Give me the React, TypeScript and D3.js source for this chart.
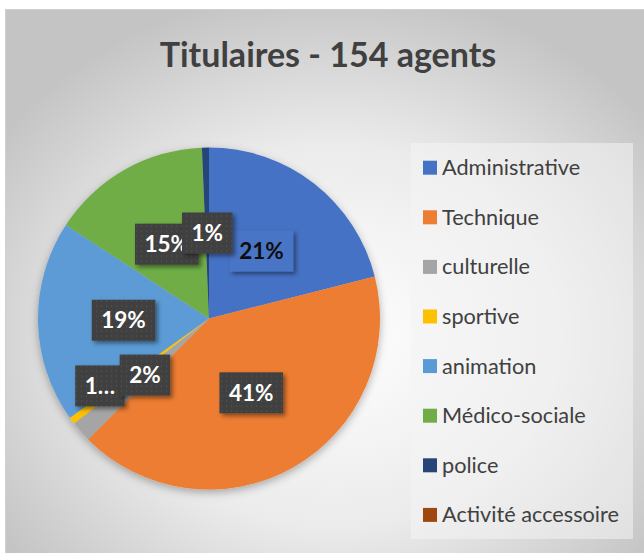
import React, { useMemo } from "react";
import * as d3 from "d3";

const categories = [
  "Administrative",
  "Technique",
  "culturelle",
  "sportive",
  "animation",
  "Médico-sociale",
  "police",
  "Activité accessoire",
];
const values = [32, 63, 3, 1, 29, 23, 1, 0];
const colors = ["#4472C4", "#ED7D31", "#A5A5A5", "#FFC000", "#5B9BD5", "#70AD47", "#264478", "#9E480E"];
const title = "Titulaires - 154 agents";
const truncated = ["sportive"];

const W = 644;
const H = 553;
const CX = 209;
const CY = 318.5;
const R = 171;
const LABEL_FONT = "bold 22.5px Lato";

function measure(text: string, font: string) {
  const c = document.createElement("canvas").getContext("2d");
  if (!c) return text.length * 12;
  c.font = font;
  return c.measureText(text).width;
}

export default function App() {
  const total = d3.sum(values);
  const arcs = useMemo(() => d3.pie<number>().sort(null).value((d) => d)(values), []);
  const arcGen = d3.arc<d3.PieArcDatum<number>>().innerRadius(0).outerRadius(R);
  // label placement: Excel "best fit" pushes the tiny sportive label outward and aside
  const labelFactor = (i: number) => (categories[i] === "sportive" ? 0.75 : 0.5);
  const labelNudge = (i: number) => (categories[i] === "sportive" ? (5 * Math.PI) / 180 : 0);
  const drawOrder = [0, 1, 3, 2, 4, 5, 6, 7];

  const legendY0 = 167.7;
  const legendStep = 49.6;

  return (
    <svg
      width={W}
      height={H}
      style={{ position: "absolute", left: 0, top: 0 }}
      xmlns="http://www.w3.org/2000/svg"
    >
      <defs>
        <radialGradient id="bg" cx="50%" cy="58%" r="62%">
          <stop offset="0%" stopColor="#ffffff" />
          <stop offset="55%" stopColor="#ebebeb" />
          <stop offset="100%" stopColor="#c4c4c4" />
        </radialGradient>
        <filter id="pieShadow" x="-20%" y="-20%" width="140%" height="140%">
          <feDropShadow dx="0" dy="3" stdDeviation="4" floodColor="#000" floodOpacity="0.3" />
        </filter>
        <filter id="boxShadow" x="-30%" y="-30%" width="160%" height="160%">
          <feDropShadow dx="2.5" dy="2.5" stdDeviation="2" floodColor="#000" floodOpacity="0.45" />
        </filter>
        <pattern id="dots" width="5" height="5" patternUnits="userSpaceOnUse">
          <rect width="5" height="5" fill="#404040" />
          <rect x="2" y="2" width="1.2" height="1.2" fill="#585858" />
        </pattern>
      </defs>
      <rect x={0} y={0} width={W} height={H} fill="#ffffff" />
      <rect x={5.5} y={9.5} width={W + 10} height={H + 10} fill="url(#bg)" stroke="#d0d0d0" />

      <text
        x={328}
        y={67}
        textAnchor="middle"
        fontFamily="Lato"
        fontWeight="bold"
        fontSize={34}
        fill="#404040"
      >
        {title}
      </text>

      <g transform={`translate(${CX},${CY})`} filter="url(#pieShadow)">
        {arcs.map((a, i) =>
          a.value > 0 ? <path key={i} d={arcGen(a) || ""} fill={colors[i]} /> : null
        )}
      </g>

      <g transform={`translate(${CX},${CY})`}>
        {drawOrder.map((i) => {
          const a = arcs[i];
          if (a.value <= 0) return null;
          const lr = R * labelFactor(i);
          const mid = (a.startAngle + a.endAngle) / 2 + labelNudge(i);
          const lx = lr * Math.sin(mid);
          const ly = -lr * Math.cos(mid);
          const pct = Math.round((a.value / total) * 100) + "%";
          const txt = truncated.includes(categories[i]) ? pct.slice(0, 1) + "…" : pct;
          const tw = measure(txt, LABEL_FONT);
          const bw = tw + 19;
          const bh = 41;
          const special = i === 0;
          return (
            <g key={i}>
              <rect
                x={lx - bw / 2}
                y={ly - bh / 2}
                width={bw}
                height={bh}
                fill={special ? "#4a74c6" : "url(#dots)"}
                filter="url(#boxShadow)"
              />
              <text
                x={lx}
                y={ly + 8}
                textAnchor="middle"
                fontFamily="Lato"
                fontWeight="bold"
                fontSize={22.5}
                fill={special ? "#0d0d0d" : "#ffffff"}
              >
                {txt}
              </text>
            </g>
          );
        })}
      </g>

      <rect x={411} y={143} width={222} height={396} fill="#f4f4f4" fillOpacity={0.55} />
      {categories.map((c, i) => {
        const cy = legendY0 + i * legendStep;
        return (
          <g key={c}>
            <rect x={423} y={cy - 7} width={14} height={14} fill={colors[i]} />
            <text x={442} y={cy + 7.5} fontFamily="Lato" fontSize={21.7} fill="#404040">
              {c}
            </text>
          </g>
        );
      })}
    </svg>
  );
}
